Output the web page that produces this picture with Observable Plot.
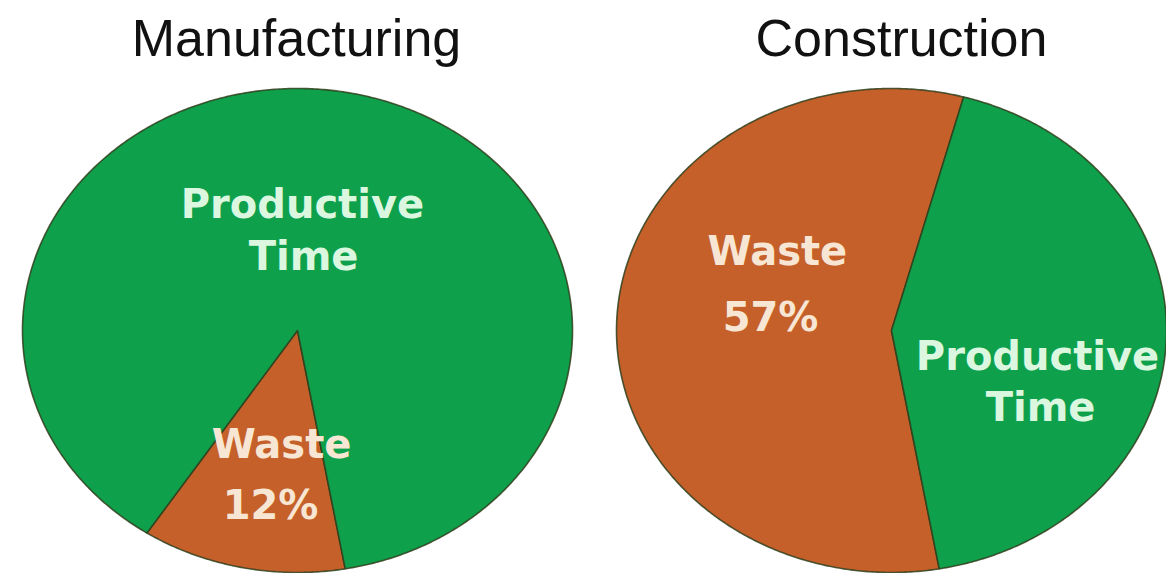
<!DOCTYPE html>
<html><head><meta charset="utf-8">
<script src="https://cdn.jsdelivr.net/npm/d3@7"></script>
<script src="https://cdn.jsdelivr.net/npm/@observablehq/plot@0.6"></script>
<style>
html,body{margin:0;padding:0;background:#fff;}
#chart svg{display:block;}
</style></head><body><div id="chart"></div>
<script>
// ---- data ----
const sectors = ["Manufacturing", "Construction"];
const categories = ["Waste", "Productive Time"];
const wasteShare = [12, 57];
const productiveShare = [88, 43];

// ---- layout / style ----
const W = 1166, H = 573;
const colorRange = ["#c5602a", "#0fa04c"];
const textColors = {"Waste": "#f8e6d4", "Productive Time": "#dcf7e0"};
const startDeg = 170; // where the waste slice begins (clockwise from 12 o'clock)
// label line anchors in unit-ellipse coordinates (layout only)
const labelPlacement = {
  "Manufacturing|Productive Time": [[0.018, 0.463], [0.022, 0.248]],
  "Manufacturing|Waste": [[-0.058, -0.525], [-0.098, -0.777]],
  "Construction|Waste": [[-0.415, 0.269], [-0.44, 0.0]],
  "Construction|Productive Time": [[0.531, -0.165], [0.542, -0.372]]
};

// ---- build slice outlines from the shares ----
const slices = [];
const labels = [];
sectors.forEach((s, i) => {
  const values = [wasteShare[i], productiveShare[i]];
  const arcs = d3.pie().sort(null)
    .startAngle(startDeg * Math.PI / 180)
    .endAngle((startDeg + 360) * Math.PI / 180)(values);
  arcs.forEach((a, j) => {
    const key = s + "|" + categories[j];
    const n = Math.max(2, Math.ceil((a.endAngle - a.startAngle) / (Math.PI / 360)));
    slices.push({sector: s, category: categories[j], key, x: 0, y: 0});
    for (let k = 0; k <= n; k++) {
      const t = a.startAngle + (a.endAngle - a.startAngle) * k / n;
      slices.push({sector: s, category: categories[j], key, x: Math.sin(t), y: Math.cos(t)});
    }
    slices.push({sector: s, category: categories[j], key, x: 0, y: 0});
    const lines = categories[j] === "Waste" ? ["Waste", values[j] + "%"] : categories[j].split(" ");
    lines.forEach((txt, li) => {
      const [lx, ly] = labelPlacement[key][li];
      labels.push({sector: s, category: categories[j], text: txt, x: lx, y: ly});
    });
  });
});

const chart = Plot.plot({
  width: W, height: H,
  marginLeft: 22, marginRight: 0, marginTop: 88, marginBottom: 1,
  style: {background: "#fff"},
  x: {domain: [-1, 1], axis: null},
  y: {domain: [-1, 1], axis: null},
  fx: {domain: sectors, axis: null, paddingInner: 44 / 594, paddingOuter: 0, round: false},
  color: {domain: categories, range: colorRange},
  marks: [
    Plot.line(slices, {fx: "sector", x: "x", y: "y", z: "key", fill: "category", stroke: "#2f3f1c", strokeWidth: 1.6, strokeOpacity: 0.85, strokeLinejoin: "round"}),
    Plot.text(labels, {fx: "sector", x: "x", y: "y", text: "text", lineAnchor: "bottom",
      fill: d => textColors[d.category], fontSize: 40, fontWeight: "bold",
      fontFamily: "DejaVu Sans, sans-serif"}),
    Plot.text(sectors.filter(s => s === "Manufacturing"), {fx: d => d, text: d => d, frameAnchor: "top", lineAnchor: "bottom", dy: -33, dx: -1,
      fontSize: 52, fill: "#111", fontFamily: "Liberation Sans, Arial, sans-serif"}),
    Plot.text(sectors.filter(s => s === "Construction"), {fx: d => d, text: d => d, frameAnchor: "top", lineAnchor: "bottom", dy: -33, dx: 10,
      fontSize: 52, fill: "#111", fontFamily: "Liberation Sans, Arial, sans-serif"})
  ]
});
document.getElementById("chart").appendChild(chart);
</script></body></html>
